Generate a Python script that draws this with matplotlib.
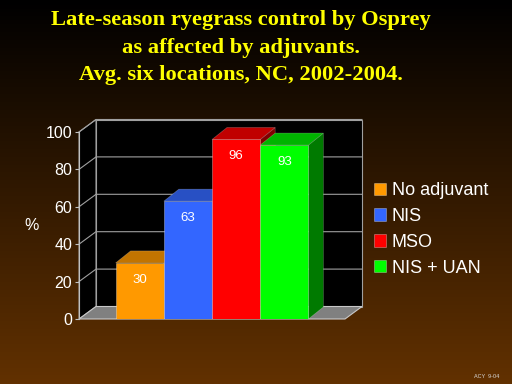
import numpy as np
import matplotlib
matplotlib.use('Agg')
import matplotlib.pyplot as plt
from matplotlib.patches import Polygon, Rectangle

# ---- data ----
categories = ['No adjuvant', 'NIS', 'MSO', 'NIS + UAN']
values = [30, 63, 96, 93]
yticks = [0, 20, 40, 60, 80, 100]
title_lines = ['Late-season ryegrass control by Osprey',
               'as affected by adjuvants.',
               'Avg. six locations, NC, 2002-2004.']
ylabel = '%'
footer = 'ACY  9-04'

# ---- styles ----
front_colors = ['#FF9900', '#3366FF', '#FF0000', '#00FF00']
top_colors = ['#C27400', '#2850C4', '#C00000', '#00B400']
side_colors = ['#8F5600', '#1E3C96', '#800000', '#007A00']

plt.rcParams['font.family'] = ['Liberation Sans', 'DejaVu Sans']

W, H = 512, 384
fig = plt.figure(figsize=(W / 100, H / 100), dpi=100)

# background gradient
bg = fig.add_axes([0, 0, 1, 1], zorder=-10)
t = np.linspace(0, 1, 256)
brown = np.array([0x62, 0x31, 0x00]) / 255
grad = t[:, None, None] * brown[None, None, :]
bg.imshow(grad, aspect='auto', extent=[0, 1, 0, 1], origin='upper')
bg.set_axis_off()

# main axes (front plane)
ax = fig.add_axes([79 / W, 1 - 319 / H, (345 - 79) / W, (319 - 132) / H])
ax.set_facecolor('none')
x = np.arange(len(categories))
ax.set_xlim(-1.26, 4.26)
ax.set_ylim(0, 100)

p0 = ax.transData.transform((0, 0))
p1 = ax.transData.transform((1, 1))
sx, sy = p1[0] - p0[0], p1[1] - p0[1]
wdx, wdy = 17 / sx, 12.5 / sy
bdx, bdy = 15 / sx, 12 / sy
xmin, xmax = ax.get_xlim()

gridc = '#a0a0a0'
# walls
ax.add_patch(Rectangle((xmin + wdx, wdy), xmax - xmin, 100, facecolor='black',
                       edgecolor=gridc, lw=0.8, clip_on=False, zorder=0.5))
ax.add_patch(Polygon([(xmin, 0), (xmin + wdx, wdy), (xmin + wdx, 100 + wdy), (xmin, 100)],
                     closed=True, facecolor='black', edgecolor=gridc, lw=0.8,
                     clip_on=False, zorder=0.5))
ax.add_patch(Polygon([(xmin, 0), (xmax, 0), (xmax + wdx, wdy), (xmin + wdx, wdy)],
                     closed=True, facecolor='#808080', edgecolor='#c8c8c8', lw=0.8,
                     clip_on=False, zorder=0.6))
for v in yticks[1:]:
    ax.plot([xmin, xmin + wdx, xmax + wdx], [v, v + wdy, v + wdy], color=gridc,
            lw=0.8, clip_on=False, zorder=0.7)

# bars
bars = ax.bar(x, values, width=1.0, color=front_colors,
              edgecolor=(1, 1, 1, 0.35), linewidth=0.6, zorder=4)
for i, v in enumerate(values):
    l, r = x[i] - 0.5, x[i] + 0.5
    ax.add_patch(Polygon([(r, 0), (r + bdx, bdy), (r + bdx, v + bdy), (r, v)], closed=True,
                         facecolor=side_colors[i], edgecolor=(1, 1, 1, 0.25), lw=0.5,
                         clip_on=False, zorder=3))
    ax.add_patch(Polygon([(l, v), (r, v), (r + bdx, v + bdy), (l + bdx, v + bdy)], closed=True,
                         facecolor=top_colors[i], edgecolor=(1, 1, 1, 0.25), lw=0.5,
                         clip_on=False, zorder=3))
    ax.annotate(str(v), (x[i], v), xytext=(0, -17 * 0.72), textcoords='offset points',
                ha='center', va='center', color='white', fontsize=9.5, zorder=10)

# axes styling
for s in ['top', 'right', 'bottom']:
    ax.spines[s].set_visible(False)
ax.spines['left'].set_color('#c0c0c0')
ax.spines['left'].set_linewidth(0.8)
ax.set_xticks([])
ax.set_yticks(yticks)
ax.tick_params(axis='y', colors='#c0c0c0', labelcolor='white', length=3, width=0.8,
               pad=2, labelsize=11.5)
ax.set_ylabel(ylabel, rotation=0, color='white', fontsize=11.5, ha='center', va='center')
ax.yaxis.set_label_coords((32 - 79) / 266, (319 - 225) / 187)

# legend
fig.legend(bars, categories, loc='upper left', bbox_to_anchor=(374 / W, 1 - 182 / H),
           frameon=False, fontsize=13, handlelength=0.67, handleheight=0.67,
           handletextpad=0.32, labelspacing=0.49, labelcolor='white',
           borderpad=0, borderaxespad=0)

# title
for ty, line in zip([25.3, 52.6, 80.0], title_lines):
    fig.text(241 / W, 1 - ty / H, line, ha='center', va='baseline', fontsize=16.2,
             family=['Liberation Serif', 'DejaVu Serif'], weight='bold', color='#FFFF00')

fig.text(499 / W, 1 - 377 / H, footer, ha='right', va='center', fontsize=4, color='#d8d8d8')

fig.savefig('out.png', dpi=100)
